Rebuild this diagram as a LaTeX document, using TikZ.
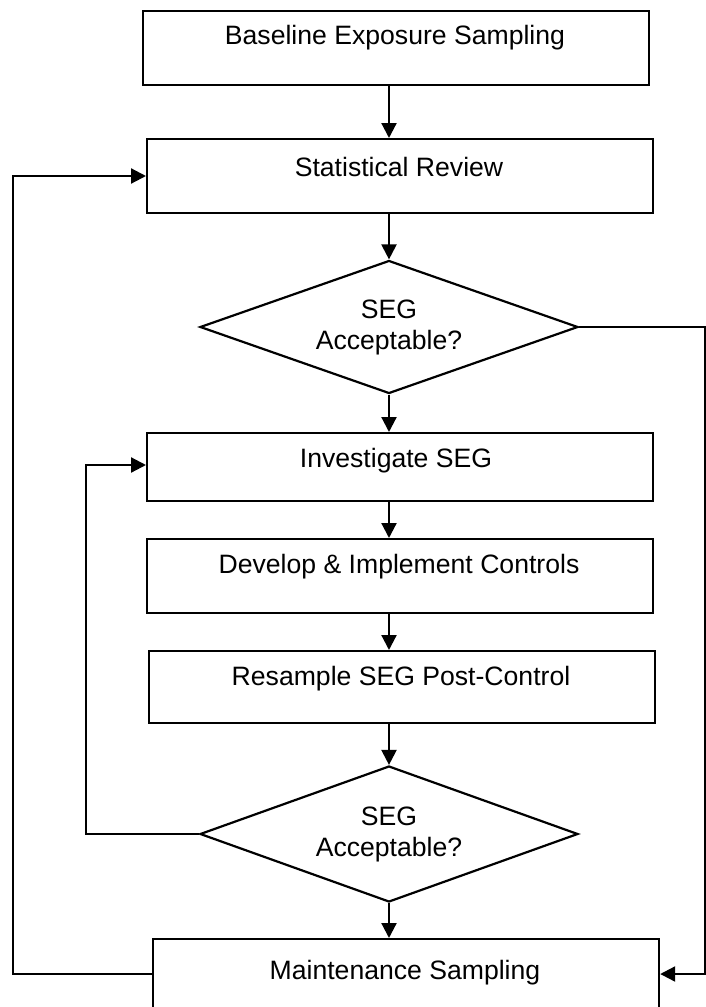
\documentclass[tikz,border=0pt]{standalone}
\usepackage{fontspec}
\setmainfont{Liberation Sans}
\usetikzlibrary{shapes.geometric,arrows.meta}
\begin{document}
\begin{tikzpicture}[x=1pt,y=-1pt,line width=2.2pt,
  box/.style={draw,line width=2.2pt,inner sep=0pt,minimum width=506pt,anchor=north west},
  lbl/.style={inner sep=0pt,font=\fontsize{26.6}{31}\selectfont},
  dec/.style={draw,diamond,aspect=2.83,inner sep=0pt,minimum width=378pt,line width=2.2pt,
    align=center,font=\fontsize{26.6}{31}\selectfont},
  arr/.style={draw,line width=2.2pt,-{Triangle[length=15pt,width=15pt]}}]
\useasboundingbox (0,0) rectangle (706,1007);
\clip (0,0) rectangle (706,1007);
\fill[white] (0,0) rectangle (706,1007);
% boxes
\node[box,minimum height=74pt] (b1) at (142,10) {};
\node[box,minimum height=74pt] (b2) at (146,138) {};
\node[dec,minimum height=133pt] (d1) at (389,327) {SEG\\Acceptable?};
\node[box,minimum height=68pt] (b3) at (146,432) {};
\node[box,minimum height=74pt] (b4) at (146,538) {};
\node[box,minimum height=72pt] (b5) at (148,650) {};
\node[dec,minimum height=136pt] (d2) at (389,834) {SEG\\Acceptable?};
\node[box,minimum height=110pt] (b6) at (152,938) {};
% labels
\node[lbl] (t1) at (395,38) {Baseline Exposure Sampling};
\node[lbl] (t2) at (399,167) {Statistical Review};
\node[lbl] (t3) at (396,461) {Investigate SEG};
\node[lbl] (t4) at (399,567) {Develop \& Implement Controls};
\node[lbl] (t5) at (401,679) {Resample SEG Post-Control};
\node[lbl] (t6) at (405,973) {Maintenance Sampling};
% helper coordinates
\coordinate (r1) at (705,0);
\coordinate (l1) at (13,0);
\coordinate (l2) at (86,0);
\coordinate (m6) at (0,974);
\coordinate (m2) at (0,176);
\coordinate (m3) at (0,465);
% main flow
\draw[arr] (b1.south -| d1.north) -- (b2.north -| d1.north);
\draw[arr] (b2.south -| d1.north) -- (d1.north);
\draw[arr] (d1.south) -- (b3.north -| d1.south);
\draw[arr] (b3.south -| d1.north) -- (b4.north -| d1.north);
\draw[arr] (b4.south -| d1.north) -- (b5.north -| d1.north);
\draw[arr] (b5.south -| d2.north) -- (d2.north);
\draw[arr] (d2.south) -- (b6.north -| d2.south);
% feedback loops
\draw[arr] (d1.east) -| (r1 |- m6) -- (b6.east |- m6);
\draw[arr] (d2.west) -| (l2 |- m3) -- (b3.west |- m3);
\draw[arr] (b6.west |- m6) -| (l1 |- m2) -- (b2.west |- m2);
\end{tikzpicture}
\end{document}
